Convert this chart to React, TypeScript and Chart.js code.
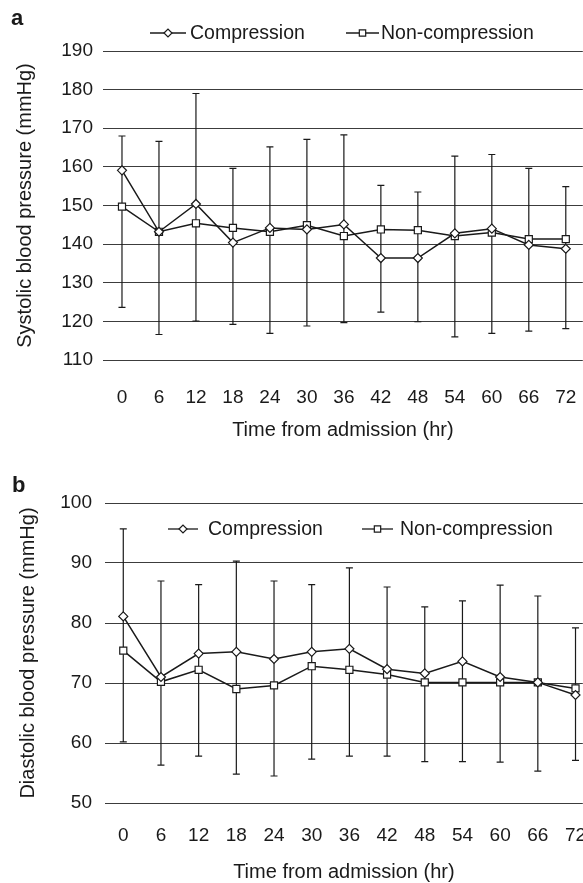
import React, { useEffect, useRef } from "react";
import { Chart, registerables } from "chart.js";
import { drawPoint } from "chart.js/helpers";

Chart.register(...registerables);

// ---- data ----
const hours = [0, 6, 12, 18, 24, 30, 36, 42, 48, 54, 60, 66, 72];
const seriesNames = ["Compression", "Non-compression"];

const sysCompression = [159.1, 143.2, 150.4, 140.4, 144.2, 143.8, 145.1, 136.4, 136.4, 142.8, 144.0, 139.8, 138.8];
const sysNonCompression = [149.7, 143.2, 145.4, 144.2, 143.2, 144.9, 142.1, 143.8, 143.6, 142.1, 143.0, 141.3, 141.3];
const sysUpper = [168, 166.6, 179, 159.6, 165.2, 167.1, 168.3, 155.2, 153.5, 162.8, 163.2, 159.6, 154.9];
const sysLower = [123.6, 116.6, 120.1, 119.2, 116.9, 118.8, 119.7, 122.4, 119.9, 116.0, 116.9, 117.5, 118.1];

const diaCompression = [81.1, 71.0, 74.9, 75.2, 74.0, 75.2, 75.7, 72.3, 71.6, 73.6, 71.0, 70.1, 68.0];
const diaNonCompression = [75.4, 70.2, 72.2, 69.0, 69.6, 72.8, 72.2, 71.4, 70.1, 70.1, 70.1, 70.1, 69.1];
const diaUpper = [95.7, 87, 86.4, 90.3, 87, 86.4, 89.2, 86, 82.7, 83.7, 86.3, 84.5, 79.2];
const diaLower = [60.2, 56.3, 57.8, 54.8, 54.5, 57.3, 57.8, 57.8, 56.9, 56.9, 56.8, 55.3, 57.1];

const FONT = "'Liberation Sans', Arial, Helvetica, sans-serif";
const INK = "#1a1a1a";
const CANVAS_W = 589;

type PanelSpec = {
  panelLetter: string;
  letterPos: [number, number];
  yTitle: string;
  yMin: number;
  yMax: number;
  comp: number[];
  nonComp: number[];
  upper: number[];
  lower: number[];
  xMin: number;
  xMax: number;
  padTop: number;
  yAxisWidth: number;
  yTickPad: number;
  yTitlePad: number;
  xAxisHeight: number;
  xTickPad: number;
  xTitlePad: number;
  legendY: number;
  legendItems: { from: number; to: number; textX: number }[];
};

const markerStyles = [
  { pointStyle: "rectRot", radius: 4.5 },
  { pointStyle: "rect", radius: 5 },
];

function buildConfig(p: PanelSpec): any {
  const errorBarPlugin = {
    id: "errorBars",
    beforeDatasetsDraw(chart: any) {
      const { ctx, scales } = chart;
      const xs = scales.x;
      const ys = scales.y;
      ctx.save();
      ctx.strokeStyle = INK;
      ctx.lineWidth = 1.2;
      hours.forEach((h, i) => {
        const px = xs.getPixelForValue(h);
        const top = ys.getPixelForValue(p.upper[i]);
        const bot = ys.getPixelForValue(p.lower[i]);
        ctx.beginPath();
        ctx.moveTo(px, top);
        ctx.lineTo(px, bot);
        ctx.moveTo(px - 3.5, top);
        ctx.lineTo(px + 3.5, top);
        ctx.moveTo(px - 3.5, bot);
        ctx.lineTo(px + 3.5, bot);
        ctx.stroke();
      });
      ctx.restore();
    },
  };

  const legendPlugin = {
    id: "customLegend",
    afterDraw(chart: any) {
      const { ctx } = chart;
      ctx.save();
      ctx.font = `bold 22px ${FONT}`;
      ctx.fillStyle = INK;
      ctx.textBaseline = "alphabetic";
      ctx.textAlign = "left";
      ctx.fillText(p.panelLetter, p.letterPos[0], p.letterPos[1]);
      chart.data.datasets.forEach((ds: any, i: number) => {
        const it = p.legendItems[i];
        const y = p.legendY;
        ctx.strokeStyle = INK;
        ctx.lineWidth = 1.3;
        ctx.beginPath();
        ctx.moveTo(it.from, y);
        ctx.lineTo(it.to, y);
        ctx.stroke();
        ctx.fillStyle = "#ffffff";
        ctx.strokeStyle = INK;
        ctx.lineWidth = 1.2;
        drawPoint(
          ctx,
          { pointStyle: ds.pointStyle, radius: ds.pointRadius - 0.5, rotation: 0, borderWidth: 1.2 } as any,
          (it.from + it.to) / 2,
          y
        );
        ctx.fillStyle = INK;
        ctx.font = `19.5px ${FONT}`;
        ctx.textBaseline = "middle";
        ctx.textAlign = "left";
        ctx.fillText(ds.label, it.textX, y + 1);
      });
      ctx.restore();
    },
  };

  const mkDataset = (label: string, values: number[], idx: number) => ({
    label,
    data: hours.map((h, i) => ({ x: h, y: values[i] })),
    borderColor: INK,
    borderWidth: 1.5,
    pointStyle: markerStyles[idx].pointStyle,
    pointRadius: markerStyles[idx].radius,
    pointBackgroundColor: "#ffffff",
    pointBorderColor: INK,
    pointBorderWidth: 1.2,
    tension: 0,
    fill: false,
  });

  return {
    type: "line",
    data: {
      datasets: [mkDataset(seriesNames[0], p.comp, 0), mkDataset(seriesNames[1], p.nonComp, 1)],
    },
    options: {
      animation: false,
      responsive: false,
      layout: { padding: { top: p.padTop, left: 0, right: 0, bottom: 0 } },
      plugins: { legend: { display: false }, tooltip: { enabled: false } },
      scales: {
        x: {
          type: "linear",
          min: p.xMin,
          max: p.xMax,
          afterBuildTicks: (scale: any) => {
            scale.ticks = hours.map((v) => ({ value: v }));
          },
          afterFit: (scale: any) => {
            scale.height = p.xAxisHeight;
          },
          grid: {
            display: true,
            drawOnChartArea: false,
            drawTicks: true,
            tickLength: p.xTickPad,
            color: "rgba(0,0,0,0)",
          },
          border: { display: false },
          ticks: {
            autoSkip: false,
            maxRotation: 0,
            padding: 0,
            color: INK,
            font: { family: FONT, size: 19 },
            callback: (v: any) => String(v),
          },
          title: {
            display: true,
            text: "Time from admission (hr)",
            color: INK,
            font: { family: FONT, size: 20 },
            padding: { top: 0, bottom: p.xTitlePad },
          },
        },
        y: {
          min: p.yMin,
          max: p.yMax,
          afterFit: (scale: any) => {
            scale.width = p.yAxisWidth;
          },
          grid: { color: "#3c3c3c", lineWidth: 1, drawTicks: false },
          border: { display: false },
          ticks: {
            stepSize: 10,
            padding: p.yTickPad,
            color: INK,
            font: { family: FONT, size: 19 },
          },
          title: {
            display: true,
            text: p.yTitle,
            color: INK,
            font: { family: FONT, size: 20 },
            padding: { top: p.yTitlePad, bottom: 0 },
          },
        },
      },
    },
    plugins: [errorBarPlugin, legendPlugin],
  };
}

const topPanel: PanelSpec = {
  panelLetter: "a",
  letterPos: [11, 25],
  yTitle: "Systolic blood pressure (mmHg)",
  yMin: 110,
  yMax: 190,
  comp: sysCompression,
  nonComp: sysNonCompression,
  upper: sysUpper,
  lower: sysLower,
  xMin: -3.08,
  xMax: 74.76,
  padTop: 51,
  yAxisWidth: 103,
  yTickPad: 10,
  yTitlePad: 13,
  xAxisHeight: 110,
  xTickPad: 26.6,
  xTitlePad: 28,
  legendY: 33,
  legendItems: [
    { from: 150, to: 186, textX: 190 },
    { from: 346, to: 379, textX: 381 },
  ],
};

const bottomPanel: PanelSpec = {
  panelLetter: "b",
  letterPos: [12, 22],
  yTitle: "Diastolic blood pressure (mmHg)",
  yMin: 50,
  yMax: 100,
  comp: diaCompression,
  nonComp: diaNonCompression,
  upper: diaUpper,
  lower: diaLower,
  xMin: -2.91,
  xMax: 73.16,
  padTop: 33,
  yAxisWidth: 105,
  yTickPad: 13,
  yTitlePad: 16,
  xAxisHeight: 81,
  xTickPad: 21.6,
  xTitlePad: 0,
  legendY: 59,
  legendItems: [
    { from: 168, to: 198, textX: 208 },
    { from: 362, to: 393, textX: 400 },
  ],
};

function Panel({ spec, top, height }: { spec: PanelSpec; top: number; height: number }) {
  const ref = useRef<HTMLCanvasElement | null>(null);
  useEffect(() => {
    if (!ref.current) return;
    const chart = new Chart(ref.current, buildConfig(spec));
    return () => chart.destroy();
  }, [spec]);
  return (
    <canvas
      ref={ref}
      width={CANVAS_W}
      height={height}
      style={{ position: "absolute", left: 0, top, width: CANVAS_W, height, display: "block" }}
    />
  );
}

export default function App() {
  return (
    <div
      style={{
        position: "fixed",
        left: 0,
        top: 0,
        width: 583,
        height: 883,
        overflow: "hidden",
        background: "#ffffff",
      }}
    >
      <Panel spec={topPanel} top={0} height={470} />
      <Panel spec={bottomPanel} top={470} height={414} />
    </div>
  );
}
